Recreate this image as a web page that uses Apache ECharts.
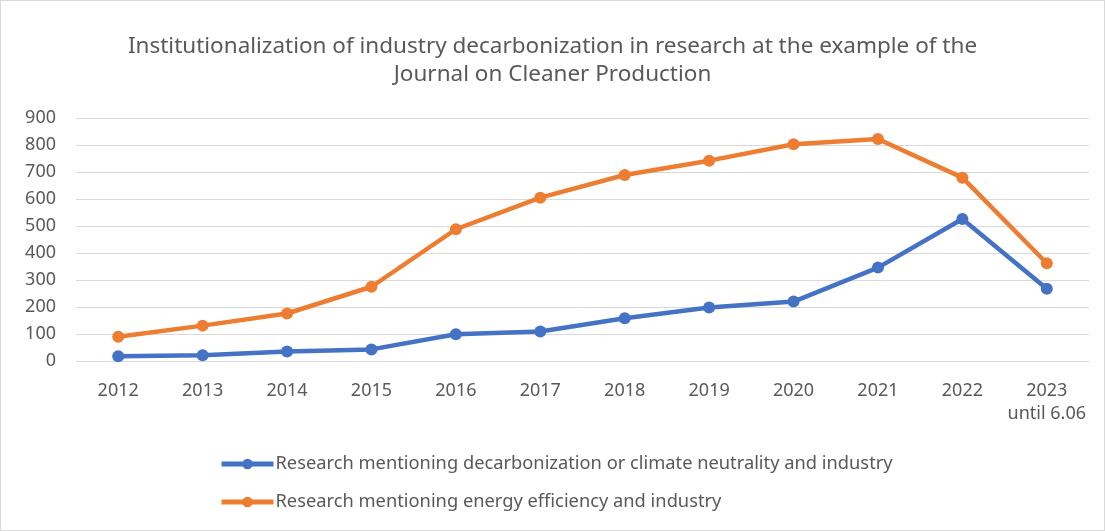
<!DOCTYPE html>
<html>
<head>
<meta charset="utf-8">
<script src="https://cdn.jsdelivr.net/npm/echarts@6/dist/echarts.min.js"></script>
<style>
  html, body { margin: 0; padding: 0; background: #fff; }
  #chart { width: 1103px; height: 529px; border: 1px solid #d9d9d9; }
</style>
</head>
<body>
<div id="chart"></div>
<script>
// years on the x axis (last year is partial)
const years = ['2012', '2013', '2014', '2015', '2016', '2017', '2018', '2019', '2020', '2021', '2022', '2023\nuntil 6.06']
// decarbonization / climate neutrality
const decarbValues = [18, 21, 35, 43, 99, 109, 158, 198, 220, 346, 526, 268]
// energy efficiency
const efficiencyValues = [90, 131, 176, 275, 488, 605, 689, 742, 803, 822, 679, 362]

const textColor = '#595959'
const fontFamily = 'Noto Sans, sans-serif'

const chart = echarts.init(document.getElementById('chart'))
chart.setOption({
  animation: false,
  title: {
    text: 'Institutionalization of industry decarbonization in research at the example of the\nJournal on Cleaner Production',
    left: 'center',
    top: 27,
    textStyle: {
      color: textColor,
      fontFamily: fontFamily,
      fontWeight: 'normal',
      fontSize: 22.5,
      lineHeight: 28
    }
  },
  legend: {
    orient: 'vertical',
    left: 213,
    top: 449,
    itemWidth: 52,
    itemHeight: 13,
    itemGap: 20,
    lineStyle: { width: 5 },
    textStyle: { color: textColor, fontFamily: fontFamily, fontSize: 18.3, padding: [0, 0, 0, -3] },
    data: [
      'Research mentioning decarbonization or climate neutrality and industry',
      'Research mentioning energy efficiency and industry'
    ]
  },
  grid: { left: 75, right: 15, top: 117, bottom: 169, containLabel: false },
  xAxis: {
    type: 'category',
    data: years,
    boundaryGap: true,
    axisLine: { show: true, lineStyle: { color: '#d9d9d9' } },
    axisTick: { show: false },
    axisLabel: {
      interval: 0,
      color: textColor,
      fontFamily: fontFamily,
      fontSize: 18,
      margin: 18,
      lineHeight: 23
    }
  },
  yAxis: {
    type: 'value',
    min: 0,
    max: 900,
    interval: 100,
    axisLine: { show: false },
    axisTick: { show: false },
    splitLine: { lineStyle: { color: '#d9d9d9', width: 1 } },
    axisLabel: { color: textColor, fontFamily: fontFamily, fontSize: 18, margin: 20 }
  },
  series: [
    {
      name: 'Research mentioning decarbonization or climate neutrality and industry',
      type: 'line',
      data: decarbValues,
      symbol: 'circle',
      symbolSize: 12,
      color: '#4472C4',
      lineStyle: { width: 4.5 }
    },
    {
      name: 'Research mentioning energy efficiency and industry',
      type: 'line',
      data: efficiencyValues,
      symbol: 'circle',
      symbolSize: 12,
      color: '#ED7D31',
      lineStyle: { width: 4.5 }
    }
  ]
})
</script>
</body>
</html>
